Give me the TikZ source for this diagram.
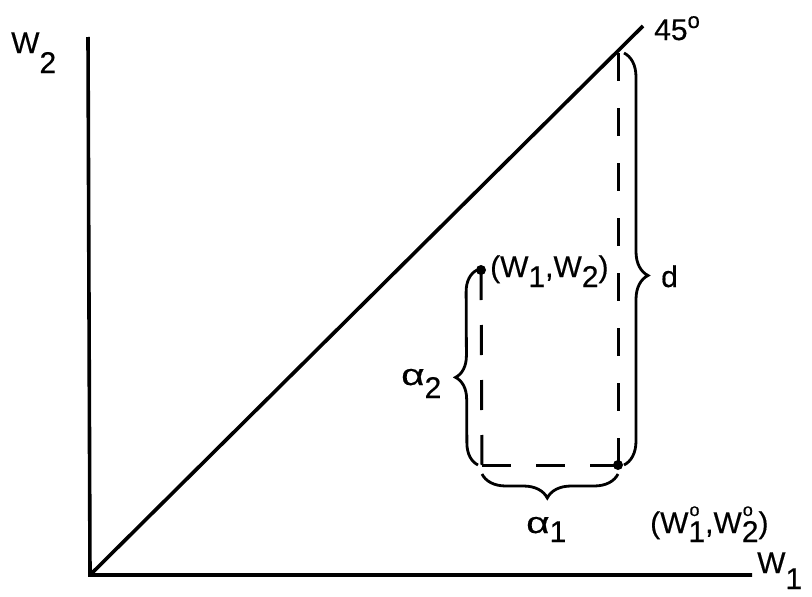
\documentclass[tikz,border=0pt]{standalone}
\usepackage{fontspec}
\setmainfont[FakeBold=0.4]{Liberation Sans}
\usetikzlibrary{decorations.pathreplacing,calc}
\newcommand{\lowr}[2][10pt]{\raisebox{-#1}{#2}}
\newcommand{\supsubr}[2]{\makebox[0pt][l]{\hspace{1pt}\raisebox{17pt}{\fontsize{18}{20}\selectfont #1}}\raisebox{-9pt}{#2}}
\newcommand{\walpha}{\scalebox{1.35}[1]{α}}
\begin{document}
\begin{tikzpicture}[x=1pt,y=-1pt,
  axis/.style={line width=3.6pt},
  dsh/.style={line width=3pt},
  brcline/.style={line width=2.8pt, decorate},
  lbl/.style={font=\fontsize{30}{34}\selectfont, inner sep=0pt, anchor=base west}]
\useasboundingbox (0,0) rectangle (812,597);
\coordinate (O) at (90,575);
\coordinate (Ytop) at (88,37);
\coordinate (Xend) at (752,575);
\coordinate (Dtop) at (643,26);
\coordinate (P) at (481,270);
\coordinate (Q) at (618,465);
\coordinate (C) at (482,465);
\coordinate (Qtop) at (618,53);
\draw[axis] (Ytop) -- (O) -- (Xend);
\draw[axis] (O) -- (Dtop);
\draw[dsh, dash pattern=on 30pt off 25pt] (P) -- (C);
\draw[dsh, dash pattern=on 29pt off 25pt] (C) -- (Q);
\draw[dsh, dash pattern=on 28pt off 27pt] (Qtop) -- (Q);
\fill (P) circle (5pt);
\fill (Q) circle (5pt);
\draw[brcline, decoration={brace, amplitude=22pt, aspect=0.45}] ($(C)+(-4,0)$) -- ($(P)+(-4,0)$);
\draw[brcline, decoration={brace, amplitude=24pt, aspect=0.52}] ($(Q)+(0,9)$) -- ($(C)+(0,9)$);
\draw[brcline, decoration={brace, amplitude=24pt, aspect=0.54}] ($(Qtop)+(6,0)$) -- ($(Q)+(6,0)$);
\node[lbl] (pl) at (490,277) {(W\lowr{1},W\lowr{2})};
\node[lbl] (a2) at (401,385) {\walpha\lowr[13pt]{2}};
\node[lbl] (a1) at (526,533) {\walpha\lowr[9pt]{1}};
\node[lbl] (dl) at (661,287) {d};
\node[lbl] (ql) at (650,533) {(W\supsubr{o}{1},W\supsubr{o}{2})};
\node[lbl] (w2) at (11,53) {W\lowr[20pt]{2}};
\node[lbl] (w1) at (757,573) {W\lowr[16pt]{1}};
\node[lbl] (deg) at (654,40) {45\raisebox{12pt}{\fontsize{22}{24}\selectfont o}};
\end{tikzpicture}
\end{document}
